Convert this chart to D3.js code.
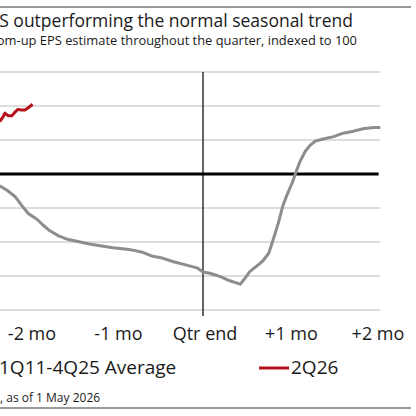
<!DOCTYPE html>
<html>
<head>
<meta charset="utf-8">
<script src="https://cdn.jsdelivr.net/npm/d3@7"></script>
<style>
  body { margin: 0; background: #fff; }
  svg { display: block; font-family: "Open Sans", "Noto Sans", sans-serif; }
</style>
</head>
<body>
<svg id="chart" width="416" height="416"></svg>
<script>
// months relative to quarter end, index level (100 = start)
const avgMonths = [-2.35, -2.27, -2.17, -2.10, -2.02, -1.92, -1.85, -1.77, -1.67, -1.58, -1.42, -1.31, -1.19, -1.04, -0.88, -0.81, -0.69, -0.58, -0.46, -0.34, -0.19, -0.07, 0.00, 0.08, 0.20, 0.31, 0.43, 0.47, 0.54, 0.64, 0.70, 0.76, 0.81, 0.87, 0.92, 0.97, 1.03, 1.07, 1.12, 1.18, 1.24, 1.30, 1.39, 1.51, 1.62, 1.74, 1.85, 1.97, 2.05];
const avgValues = [99.65, 99.53, 99.33, 99.09, 98.84, 98.67, 98.50, 98.33, 98.18, 98.09, 98.00, 97.94, 97.89, 97.83, 97.79, 97.76, 97.69, 97.58, 97.52, 97.42, 97.32, 97.24, 97.12, 97.08, 96.98, 96.86, 96.76, 96.88, 97.13, 97.33, 97.47, 97.67, 98.06, 98.55, 99.04, 99.38, 99.73, 100.02, 100.36, 100.66, 100.85, 100.97, 101.03, 101.10, 101.20, 101.26, 101.33, 101.37, 101.37];

const curMonths = [-2.35, -2.31, -2.29, -2.25, -2.21, -2.17, -2.14, -2.10, -2.06, -2.02, -1.97];
const curValues = [101.54, 101.69, 101.79, 101.71, 101.71, 101.83, 101.90, 101.88, 101.88, 101.95, 102.05];

const tickMonths = [-2, -1, 0, 1, 2];
const tickLabels = ["-2 mo", "-1 mo", "Qtr end", "+1 mo", "+2 mo"];
const gridValues = [96, 97, 98, 99, 101, 102, 103];

const seriesNames = ["1Q11-4Q25 Average", "2Q26"];
const seriesColors = ["#8d8d89", "#b5121b"];

const svg = d3.select("#chart");

const x = d3.scaleLinear().domain([-2, 2]).range([30, 376]);
const y = d3.scaleLinear().domain([96, 103]).range([310, 72]);

// header / footer rules
svg.append("line").attr("x1", 0).attr("x2", 411).attr("y1", 7).attr("y2", 7)
    .attr("stroke", "#333").attr("stroke-width", 1);
svg.append("line").attr("x1", 0).attr("x2", 411).attr("y1", 408).attr("y2", 408)
    .attr("stroke", "#333").attr("stroke-width", 1);

// titles (left part cropped in the original)
svg.append("text").attr("x", 353).attr("y", 27).attr("text-anchor", "end")
    .attr("font-size", 17.5).attr("fill", "#1a1a1a")
    .text("EPS outperforming the normal seasonal trend");
svg.append("text").attr("x", 357).attr("y", 45).attr("text-anchor", "end")
    .attr("font-size", 12.9).attr("fill", "#1a1a1a")
    .text("Bottom-up EPS estimate throughout the quarter, indexed to 100");

// gridlines
svg.append("g").selectAll("line").data(gridValues).join("line")
    .attr("x1", x(-3)).attr("x2", x(2.05))
    .attr("y1", d => y(d)).attr("y2", d => y(d))
    .attr("stroke", "#d2d2d2").attr("stroke-width", 1.5);

// quarter-end vertical
svg.append("line").attr("x1", x(0)).attr("x2", x(0)).attr("y1", y(103)).attr("y2", 316)
    .attr("stroke", "#111").attr("stroke-width", 1.3);

// index = 100 line
svg.append("line").attr("x1", x(-3)).attr("x2", x(2.03)).attr("y1", y(100)).attr("y2", y(100))
    .attr("stroke", "#000").attr("stroke-width", 3);

// x labels
svg.append("g").selectAll("text").data(tickMonths).join("text")
    .attr("x", d => x(d) + 2).attr("y", 340).attr("text-anchor", "middle")
    .attr("font-size", 18).attr("fill", "#1a1a1a")
    .text((d, i) => tickLabels[i]);

const line = d3.line().x(d => x(d[0])).y(d => y(d[1])).curve(d3.curveLinear);

svg.append("path").datum(avgMonths.map((m, i) => [m, avgValues[i]]))
    .attr("d", line).attr("fill", "none")
    .attr("stroke", seriesColors[0]).attr("stroke-width", 3).attr("stroke-linejoin", "round");

svg.append("path").datum(curMonths.map((m, i) => [m, curValues[i]]))
    .attr("d", line).attr("fill", "none")
    .attr("stroke", seriesColors[1]).attr("stroke-width", 3).attr("stroke-linejoin", "round");

// legend
const legendX = [-33, 259];
const legend = svg.append("g").selectAll("g").data(seriesNames).join("g")
    .attr("transform", (d, i) => `translate(${legendX[i]},368)`);
legend.append("line").attr("x1", 0).attr("x2", 30)
    .attr("stroke", (d, i) => seriesColors[i]).attr("stroke-width", 3);
legend.append("text").attr("x", 32).attr("y", 6)
    .attr("font-size", 19).attr("fill", "#1a1a1a").text(d => d);

// source note (cropped)
svg.append("text").attr("x", 0).attr("y", 402)
    .attr("font-size", 12).attr("fill", "#1a1a1a")
    .text(", as of 1 May 2026");
</script>
</body>
</html>
